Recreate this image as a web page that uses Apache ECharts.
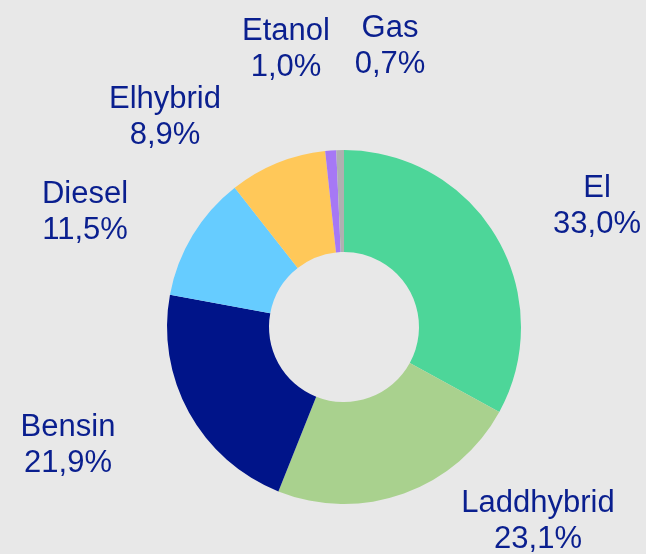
<!DOCTYPE html>
<html>
<head>
<meta charset="utf-8">
<script src="https://cdn.jsdelivr.net/npm/echarts@6/dist/echarts.min.js"></script>
<style>
  html, body { margin: 0; padding: 0; background: #e8e8e8; }
  #main { width: 646px; height: 554px; }
</style>
</head>
<body>
<div id="main"></div>
<script>
const categories = ["El", "Laddhybrid", "Bensin", "Diesel", "Elhybrid", "Etanol", "Gas"];
const shares = [33.0, 23.1, 21.9, 11.5, 8.9, 1.0, 0.7];
const colors = ["#4dd699", "#a9d18e", "#001489", "#66ccff", "#ffc859", "#a678f5", "#b0b0b0"];

// where each label sits (centre of the two-line block)
const labelSpots = [
  [597, 206], [538, 521], [68, 445], [85, 212],
  [165, 117], [286, 49], [390, 46]
];

window.onload = function () {
  const myChart = echarts.init(document.getElementById("main"));

  const options = {
    backgroundColor: "#e8e8e8",
    animation: false,
    series: [
      {
        type: "pie",
        center: [344, 327],
        radius: [75, 177],
        startAngle: 90,
        clockwise: true,
        data: categories.map((name, i) => ({
          name: name,
          value: shares[i],
          itemStyle: { color: colors[i] }
        })),
        itemStyle: { borderWidth: 0 },
        label: {
          show: true,
          position: "outside",
          color: "#0a1f8f",
          fontFamily: "'Liberation Sans'",
          fontSize: 31,
          lineHeight: 36,
          align: "center",
          formatter: p => p.name + "\n" + p.value.toFixed(1).replace(".", ",") + "%"
        },
        labelLine: { show: false },
        labelLayout: p => ({
          x: labelSpots[p.dataIndex][0],
          y: labelSpots[p.dataIndex][1],
          align: "center",
          verticalAlign: "middle"
        })
      }
    ]
  };

  myChart.setOption(options);
};
</script>
</body>
</html>
